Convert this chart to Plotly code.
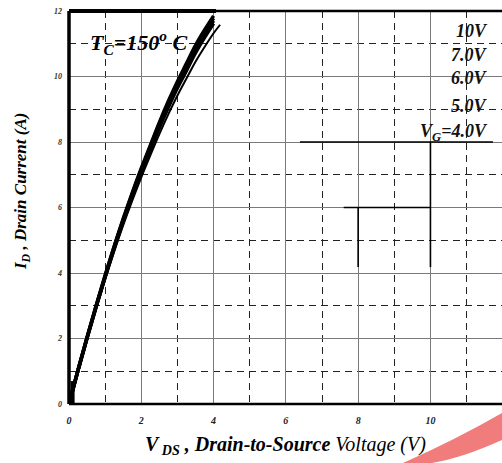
import plotly.graph_objects as go

# ---- data ----
x_vds = [0, 0.25, 0.5, 0.75, 1.0, 1.25, 1.5, 1.75, 2.0, 2.25, 2.5, 2.75, 3.0, 3.25, 3.5, 3.75, 4.0]
id_10v = [0, 1.04, 2.04, 3.0, 3.93, 4.82, 5.66, 6.45, 7.2, 7.9, 8.6, 9.25, 9.85, 10.4, 10.95, 11.42, 11.85]
id_7v = [0, 1.04, 2.03, 2.99, 3.91, 4.8, 5.63, 6.42, 7.16, 7.86, 8.55, 9.19, 9.79, 10.33, 10.88, 11.35, 11.78]
id_6v = [0, 1.03, 2.02, 2.97, 3.89, 4.77, 5.6, 6.38, 7.12, 7.81, 8.49, 9.13, 9.72, 10.26, 10.8, 11.27, 11.7]
id_5v = [0, 1.03, 2.01, 2.96, 3.87, 4.74, 5.57, 6.34, 7.07, 7.76, 8.43, 9.06, 9.65, 10.18, 10.72, 11.19, 11.62]
x_4v = [0, 0.25, 0.5, 0.75, 1.0, 1.25, 1.5, 1.75, 2.0, 2.25, 2.5, 2.75, 3.0, 3.25, 3.5, 3.75, 4.0, 4.18]
id_4v = [0, 1.02, 1.99, 2.92, 3.81, 4.66, 5.46, 6.21, 6.92, 7.59, 8.24, 8.85, 9.42, 9.94, 10.45, 10.9, 11.32, 11.58]

series_names = ["10V", "7.0V", "6.0V", "5.0V", "4.0V"]
series_labels = ["10V", "7.0V", "6.0V", "5.0V", "V<sub>G</sub>=4.0V"]
label_y = [11.4, 10.65, 9.95, 9.1, 8.3]

x_ticks = [0, 2, 4, 6, 8, 10]
y_ticks = [0, 2, 4, 6, 8, 10, 12]

# dark stray segments visible on the scanned chart (None separates segments)
stray_x = [6.39, 11.73, None, 8.0, 8.0, None, 10.0, 10.0, None, 7.6, 10.0]
stray_y = [8.0, 8.0, None, 6.0, 4.18, None, 8.0, 4.18, None, 6.0, 6.0]
blob_x = [0.1, 0.1]
blob_y = [0.0, 0.7]

serif = "Liberation Serif"

fig = go.Figure()

curve_sets = [
    (x_vds, id_10v, 3.5),
    (x_vds, id_7v, 3.5),
    (x_vds, id_6v, 3.5),
    (x_vds, id_5v, 3.5),
    (x_4v, id_4v, 2.0),
]
for (xs, ys, w), name in zip(curve_sets, series_names):
    fig.add_trace(go.Scatter(x=xs, y=ys, mode="lines", name=name,
                             line=dict(color="black", width=w, shape="spline"),
                             showlegend=False, hoverinfo="skip"))

fig.add_trace(go.Scatter(x=stray_x, y=stray_y, mode="lines",
                         line=dict(color="black", width=1.6),
                         showlegend=False, hoverinfo="skip", connectgaps=False))
fig.add_trace(go.Scatter(x=blob_x, y=blob_y, mode="lines",
                         line=dict(color="black", width=4),
                         showlegend=False, hoverinfo="skip"))

W, H = 502, 463
L, R, T, B = 69, 0, 11, 59
pw = W - L - R
ph = H - T - B

def px(xp):
    return (xp - L) / pw

def py(yp):
    return (H - B - yp) / ph

axis_common = dict(
    showline=False, zeroline=False, ticks="",
    gridcolor="#7a7a7a", gridwidth=1,
)

fig.update_xaxes(range=[0, 11.98], tickvals=x_ticks, ticktext=[str(v) for v in x_ticks],
                 minor=dict(dtick=1, tick0=0, showgrid=True, gridcolor="#222",
                            griddash="7px,5px", gridwidth=1),
                 tickfont=dict(family=serif, size=10, color="#222", weight="bold", style="italic"),
                 ticklabelstandoff=9, **axis_common)
fig.update_yaxes(range=[0, 12], tickvals=y_ticks, ticktext=[str(v) for v in y_ticks],
                 minor=dict(dtick=1, tick0=0, showgrid=True, gridcolor="#222",
                            griddash="7px,5px", gridwidth=1),
                 tickfont=dict(family=serif, size=8, color="#333", weight="bold", style="italic"),
                 ticklabelstandoff=6, **axis_common)

shapes = [
    # frame
    dict(type="line", xref="paper", yref="paper", x0=0, x1=0, y0=0, y1=1,
         line=dict(color="black", width=3.5)),
    dict(type="line", xref="paper", yref="paper", x0=0, x1=1, y0=0, y1=0,
         line=dict(color="black", width=2.5)),
    dict(type="line", xref="paper", yref="paper", x0=0, x1=1, y0=1, y1=1,
         line=dict(color="black", width=2.5)),
    dict(type="line", xref="paper", yref="paper", x0=0, x1=px(216), y0=1, y1=1,
         line=dict(color="black", width=4)),
    # red swoosh
    dict(type="path", xref="paper", yref="paper", layer="above",
         path=(f"M {px(403)},{py(463)} Q {px(455)},{py(440)} {px(502)},{py(413)} "
               f"L {px(502)},{py(440)} Q {px(462)},{py(458)} {px(432)},{py(463)} Z"),
         fillcolor="rgba(240,110,110,0.9)", line=dict(width=0)),
]

annotations = [
    dict(xref="paper", yref="paper", x=px(285), y=py(445), xanchor="center", yanchor="middle",
         showarrow=False,
         text="<b><i>V<sub> DS</sub> , Drain-to-Source</i></b><i> Voltage (V)</i>",
         font=dict(family=serif, size=20, color="black")),
    dict(xref="paper", yref="paper", x=px(22), y=py(192), xanchor="center", yanchor="middle",
         showarrow=False, textangle=-90,
         text="<b><i>I<sub>D</sub> , Drain Current (A)</i></b>",
         font=dict(family=serif, size=17, color="black")),
    dict(xref="paper", yref="paper", x=px(138), y=py(43), xanchor="center", yanchor="middle",
         showarrow=False,
         text="<b><i>T<sub>C</sub>=150<sup>o</sup> C</i></b>",
         font=dict(family=serif, size=22, color="black")),
]
for lab, yv in zip(series_labels, label_y):
    annotations.append(dict(xref="x", yref="y", x=11.66, y=yv, xanchor="right", yanchor="middle",
                            showarrow=False, text=f"<b><i>{lab}</i></b>",
                            font=dict(family=serif, size=18, color="#111")))

fig.update_layout(
    width=W, height=H,
    margin=dict(l=L, r=R, t=T, b=B),
    paper_bgcolor="white", plot_bgcolor="white",
    shapes=shapes, annotations=annotations,
)

fig.write_html("out.html")
